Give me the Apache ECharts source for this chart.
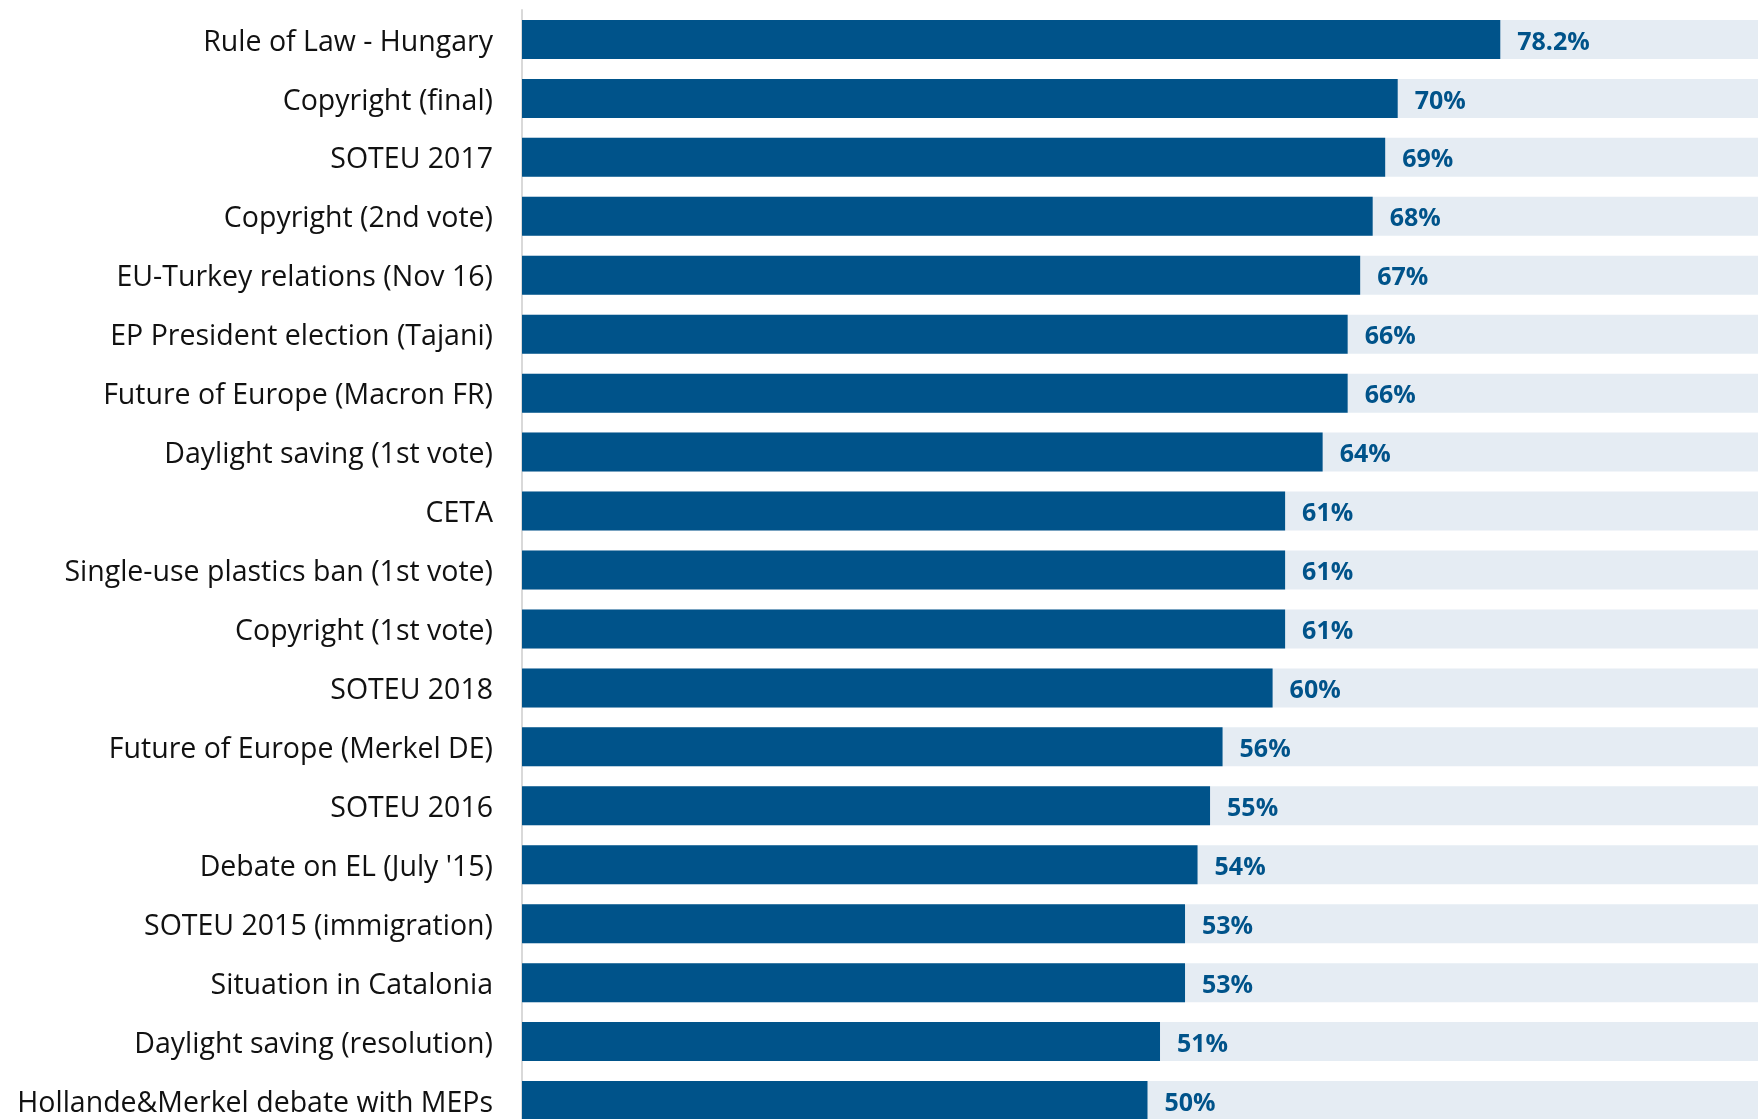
<!DOCTYPE html>
<html>
<head>
<meta charset="utf-8">
<script src="https://cdn.jsdelivr.net/npm/echarts@6/dist/echarts.min.js"></script>
<style>
html,body{margin:0;padding:0;background:#fff;overflow:hidden;}
#chart{width:1800px;height:1160px;}
</style>
</head>
<body>
<div id="chart"></div>
<script>
const categories = [
  "Rule of Law - Hungary",
  "Copyright (final)",
  "SOTEU 2017",
  "Copyright (2nd vote)",
  "EU-Turkey relations (Nov 16)",
  "EP President election (Tajani)",
  "Future of Europe (Macron FR)",
  "Daylight saving (1st vote)",
  "CETA",
  "Single-use plastics ban (1st vote)",
  "Copyright (1st vote)",
  "SOTEU 2018",
  "Future of Europe (Merkel DE)",
  "SOTEU 2016",
  "Debate on EL (July '15)",
  "SOTEU 2015 (immigration)",
  "Situation in Catalonia",
  "Daylight saving (resolution)",
  "Hollande&Merkel debate with MEPs"
];
const values = [78.2, 70, 69, 68, 67, 66, 66, 64, 61, 61, 61, 60, 56, 55, 54, 53, 53, 51, 50];
const labels = ["78.2%", "70%", "69%", "68%", "67%", "66%", "66%", "64%", "61%", "61%", "61%", "60%", "56%", "55%", "54%", "53%", "53%", "51%", "50%"];

const chart = echarts.init(document.getElementById('chart'), null, {renderer: 'canvas'});
chart.setOption({
  animation: false,
  backgroundColor: '#ffffff',
  grid: {left: 522, top: 10, width: 1251, height: 1120, containLabel: false},
  xAxis: {
    type: 'value', min: 0, max: 100,
    show: false
  },
  yAxis: {
    type: 'category',
    data: categories,
    inverse: true,
    axisLine: {show: true, lineStyle: {color: '#d9d9d9', width: 2}},
    axisTick: {show: false},
    axisLabel: {
      margin: 29,
      formatter: v => '{t|' + v + '}',
      rich: {
        t: {
          fontFamily: '"Open Sans", sans-serif',
          fontSize: 28.5,
          color: '#111111',
          padding: [6, 0, 0, 0]
        }
      }
    }
  },
  series: [{
    type: 'bar',
    data: values,
    barWidth: 39,
    itemStyle: {color: '#00538a'},
    showBackground: true,
    backgroundStyle: {color: '#e5ecf3'},
    label: {
      show: true,
      position: 'right',
      distance: 17,
      offset: [0, 3],
      formatter: p => labels[p.dataIndex],
      fontFamily: '"Open Sans", sans-serif',
      fontWeight: 'bold',
      fontSize: 25,
      color: '#00538a'
    }
  }]
});
</script>
</body>
</html>
